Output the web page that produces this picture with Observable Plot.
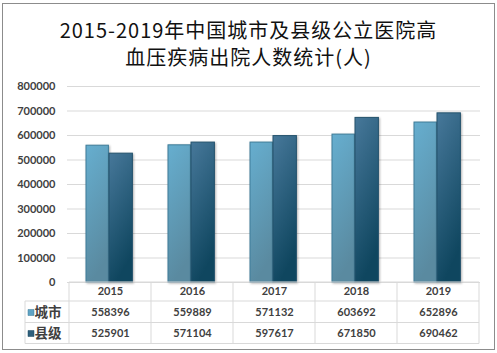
<!DOCTYPE html>
<html><head><meta charset="utf-8">
<script src="https://cdn.jsdelivr.net/npm/d3@7"></script>
<script src="https://cdn.jsdelivr.net/npm/@observablehq/plot@0.6"></script>
<style>
html,body{margin:0;padding:0;background:#fff;}
#wrap{position:relative;width:497px;height:353px;overflow:hidden;}
#frame{position:absolute;left:2px;top:3px;width:491px;height:345px;border:1px solid #8c8c8c;pointer-events:none;}
#title{position:absolute;left:0;top:16px;width:497px;text-align:center;font-family:"Noto Sans CJK SC",sans-serif;font-size:20px;line-height:27px;letter-spacing:1px;color:#111;}
#chart{position:absolute;left:0;top:0;}
</style></head>
<body>
<div id="wrap">
  <div id="chart"></div>
  <div id="title">2015-2019年中国城市及县级公立医院高<br>血压疾病出院人数统计(人)</div>
  <div id="frame"></div>
</div>
<script>
const years = ["2015","2016","2017","2018","2019"];
const city = [558396,559889,571132,603692,652896];
const county = [525901,571104,597617,671850,690462];
const seriesNames = ["城市","县级"];
const yTicks = [0,100000,200000,300000,400000,500000,600000,700000,800000];

const data = years.map((y,i)=>({year:y, city:city[i], county:county[i]}));
const numFont = {fontFamily:"Lato, sans-serif", fontSize:11, fontWeight:"bold", fill:"#404040"};

const plot = Plot.plot({
  width:497, height:353,
  marginLeft:67, marginRight:17, marginTop:86, marginBottom:71,
  x:{domain:years, padding:0, axis:null},
  y:{domain:[0,800000], axis:null},
  style:{background:"transparent", overflow:"visible"},
  marks:[
    Plot.gridY(yTicks,{stroke:"#D9D9D9", strokeOpacity:1}),
    Plot.axisY(yTicks,{tickSize:0, tickPadding:12, tickFormat:d=>String(d), ...numFont}),
    Plot.barY(data,{x:"year", y:"city", fill:"url(#gCity)", stroke:"#3E7D99", strokeWidth:1, insetLeft:17, insetRight:42.6}),
    Plot.barY(data,{x:"year", y:"county", fill:"url(#gCounty)", stroke:"#24536D", strokeWidth:1, insetLeft:40, insetRight:18.6}),
    Plot.text(data,{x:"year", y:()=>0, text:"year", dy:9, ...numFont}),
    Plot.text(data,{x:"year", y:()=>0, text:d=>String(d.city), dy:30, ...numFont}),
    Plot.text(data,{x:"year", y:()=>0, text:d=>String(d.county), dy:51, ...numFont}),
    Plot.text([seriesNames[0]],{frameAnchor:"left", y:()=>0, text:d=>d, dx:-33, dy:30, textAnchor:"start", fontFamily:"Noto Sans CJK SC, sans-serif", fontSize:13.5, fontWeight:"bold", fill:"#404040"}),
    Plot.text([seriesNames[1]],{frameAnchor:"left", y:()=>0, text:d=>d, dx:-33, dy:51, textAnchor:"start", fontFamily:"Noto Sans CJK SC, sans-serif", fontSize:13.5, fontWeight:"bold", fill:"#404040"}),
    Plot.dot([seriesNames[0]],{frameAnchor:"left", y:()=>0, dx:-36.5, dy:30, symbol:"square", r:3.4, fill:"#5FA3C4", stroke:"#3E7D99", strokeWidth:0.5}),
    Plot.dot([seriesNames[1]],{frameAnchor:"left", y:()=>0, dx:-36.5, dy:51, symbol:"square", r:3.4, fill:"#2E5F7C", stroke:"#1F4B63", strokeWidth:0.5})
  ]
});

const svg = d3.select(plot);
const defs = svg.insert("defs",":first-child");
const g1 = defs.append("linearGradient").attr("id","gCity").attr("x1",0).attr("y1",0).attr("x2",0.25).attr("y2",1);
g1.append("stop").attr("offset","0%").attr("stop-color","#66AECF");
g1.append("stop").attr("offset","100%").attr("stop-color","#5A8AA0");
const g2 = defs.append("linearGradient").attr("id","gCounty").attr("x1",0).attr("y1",0).attr("x2",0.3).attr("y2",1);
g2.append("stop").attr("offset","0%").attr("stop-color","#47789A");
g2.append("stop").attr("offset","100%").attr("stop-color","#0F465F");
svg.selectAll("g[aria-label='bar']").style("filter","drop-shadow(1.5px 1px 1px rgba(0,0,0,0.3))");

// table grid lines
const X = plot.scale("x"), Y = plot.scale("y");
const bw = X.bandwidth;
const y0 = Y.apply(0);
const xL = X.apply(years[0]), xR = X.apply(years[years.length-1]) + bw;
const gl = svg.append("g").attr("stroke","#D9D9D9").attr("stroke-width",1);
const rowY = [y0, y0+19, y0+40.5, y0+61.5];
gl.append("line").attr("x1",xL).attr("x2",xR).attr("y1",rowY[0]).attr("y2",rowY[0]);
[1,2,3].forEach(i=>gl.append("line").attr("x1",25).attr("x2",xR).attr("y1",rowY[i]).attr("y2",rowY[i]));
gl.append("line").attr("x1",25).attr("x2",25).attr("y1",rowY[1]).attr("y2",rowY[3]);
years.forEach(yr=>{const xx=X.apply(yr); gl.append("line").attr("x1",xx).attr("x2",xx).attr("y1",rowY[0]).attr("y2",rowY[3]);});
gl.append("line").attr("x1",xR).attr("x2",xR).attr("y1",rowY[0]).attr("y2",rowY[3]);

document.getElementById("chart").appendChild(plot);
</script>
</body></html>
